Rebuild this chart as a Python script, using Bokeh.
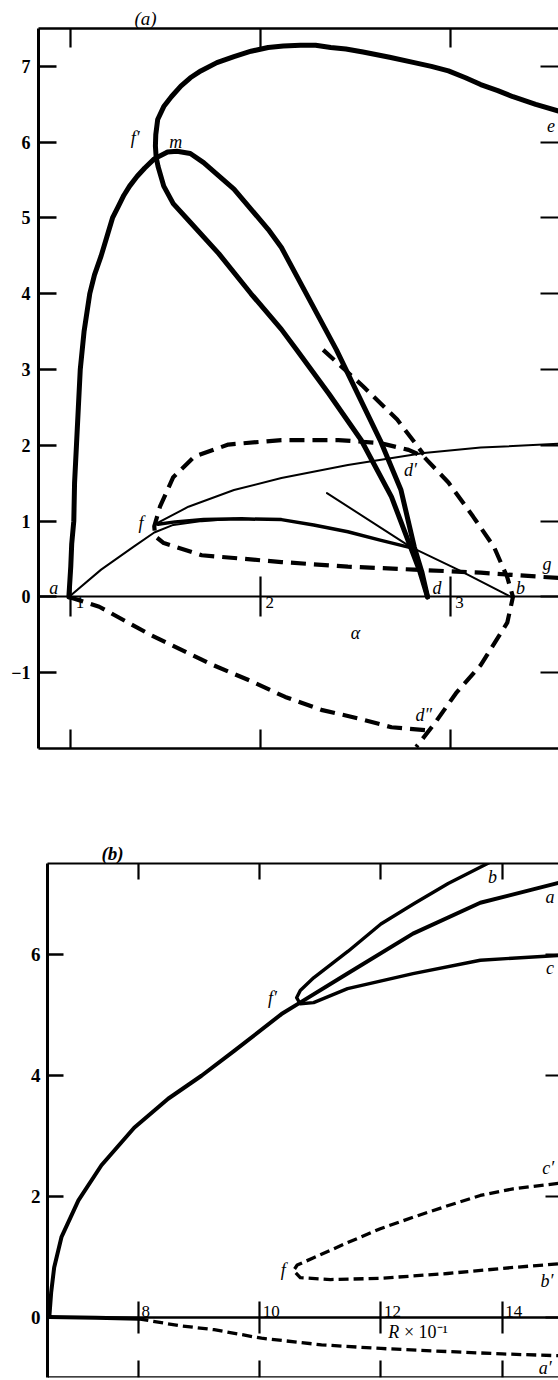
from bokeh.plotting import figure
from bokeh.models import LinearAxis, FixedTicker, Title
from bokeh.embed import file_html
from bokeh.resources import INLINE
from bokeh.core.properties import value

SERIF = "Liberation Serif"

# ---------------- panel (a): amplitude branches against alpha ----------------
alpha_ticks = [1, 2, 3]
amp_ticks_a = [-1, 0, 1, 2, 3, 4, 5, 6, 7]

# thick branch: a -> m -> d
k1_alpha = [0.99, 1.00, 1.005, 1.016, 1.02, 1.03, 1.04, 1.05, 1.07, 1.10, 1.125, 1.16, 1.19,
            1.22, 1.25, 1.28, 1.31, 1.35, 1.39, 1.44, 1.51, 1.56, 1.63, 1.70, 1.86, 2.04,
            2.11, 2.40, 2.63, 2.74, 2.81, 2.85, 2.88]
k1_amp = [0.0, 0.4, 0.7, 1.0, 1.5, 2.0, 2.5, 3.0, 3.5, 4.0, 4.25, 4.5, 4.75,
          5.0, 5.15, 5.3, 5.42, 5.55, 5.66, 5.78, 5.87, 5.88, 5.85, 5.73, 5.38, 4.85,
          4.61, 3.26, 2.07, 1.41, 0.66, 0.33, 0.0]

# thick branch: e -> f' (turning point) -> d
k2_alpha = [3.57, 3.45, 3.33, 3.25, 3.16, 3.08, 2.99, 2.90, 2.81, 2.68, 2.54, 2.45, 2.37,
            2.29, 2.21, 2.12, 2.04, 1.95, 1.86, 1.77, 1.685, 1.63, 1.58, 1.53, 1.49,
            1.458, 1.448, 1.446, 1.45, 1.46, 1.49, 1.54, 1.62, 1.78, 1.95, 2.11, 2.19,
            2.36, 2.53, 2.69, 2.79, 2.84, 2.88]
k2_amp = [6.41, 6.50, 6.60, 6.68, 6.76, 6.85, 6.94, 7.00, 7.05, 7.12, 7.19, 7.23, 7.25,
          7.28, 7.28, 7.27, 7.25, 7.20, 7.13, 7.05, 6.94, 6.85, 6.74, 6.60, 6.47,
          6.30, 6.10, 5.95, 5.80, 5.68, 5.42, 5.19, 4.97, 4.53, 4.00, 3.53, 3.26,
          2.68, 2.07, 1.32, 0.66, 0.33, 0.0]

# medium branch from f over the hump to the knot near d
h_alpha = [1.46, 1.55, 1.70, 1.90, 2.11, 2.28, 2.46, 2.63, 2.79]
h_amp = [0.96, 0.99, 1.02, 1.03, 1.02, 0.95, 0.86, 0.75, 0.65]

# thin branches
t1_alpha = [0.99, 1.16, 1.33, 1.44, 1.54, 1.69, 1.86]
t1_amp = [0.0, 0.36, 0.66, 0.85, 0.95, 1.0, 1.03]
t2_alpha = [1.46, 1.62, 1.86, 2.11, 2.46, 2.86, 3.16, 3.57]
t2_amp = [0.98, 1.19, 1.41, 1.57, 1.74, 1.90, 1.97, 2.02]
t3_alpha = [2.35, 2.79, 3.04, 3.32]
t3_amp = [1.37, 0.66, 0.36, 0.0]

# dashed branches
d1_alpha = [3.57, 3.33, 3.16, 2.81, 2.46, 2.11, 1.69, 1.49, 1.445, 1.44, 1.47, 1.54, 1.65,
            1.83, 2.11, 2.41, 2.63, 2.78, 2.86, 2.99, 3.12, 3.23, 3.30, 3.33, 3.30, 3.16,
            3.03, 2.92, 2.82]
d1_amp = [0.25, 0.29, 0.32, 0.36, 0.40, 0.46, 0.55, 0.71, 0.80, 0.93, 1.19, 1.58, 1.85,
          2.01, 2.07, 2.07, 2.03, 1.94, 1.85, 1.51, 1.06, 0.66, 0.26, 0.0, -0.34, -0.90,
          -1.27, -1.66, -1.98]
d2_alpha = [2.33, 2.54, 2.72, 2.86]
d2_amp = [3.26, 2.78, 2.34, 1.88]
d3_alpha = [0.99, 1.15, 1.42, 1.75, 1.94, 2.13, 2.32, 2.51, 2.69, 2.88]
d3_amp = [0.0, -0.13, -0.50, -0.90, -1.10, -1.32, -1.49, -1.60, -1.72, -1.76]

labels_a = ["f\u2032", "m", "e", "a", "f", "d\u2032", "d", "b", "g", "d\u2033"]
labels_a_alpha = [1.34, 1.553, 3.53, 0.91, 1.37, 2.79, 2.93, 3.37, 3.51, 2.86]
labels_a_amp = [6.06, 6.00, 6.22, 0.12, 0.97, 1.67, 0.12, 0.12, 0.44, -1.56]

# ---------------- panel (b): amplitude against R x 10^-1 ----------------
r_ticks = [8, 10, 12, 14]
amp_ticks_b = [0, 2, 4, 6]

main_r = [6.53, 6.56, 6.61, 6.73, 7.01, 7.39, 7.93, 8.49, 9.04, 9.58, 10.36, 10.70,
          11.45, 12.53, 13.64, 14.93]
main_amp = [0.0, 0.4, 0.82, 1.32, 1.93, 2.51, 3.13, 3.61, 3.99, 4.40, 5.01, 5.22,
            5.68, 6.34, 6.85, 7.18]

bc_r = [13.80, 13.11, 12.55, 12.0, 11.46, 10.89, 10.67, 10.61, 10.67, 10.89, 11.45,
        12.53, 13.64, 14.93]
bc_amp = [7.52, 7.17, 6.84, 6.50, 6.05, 5.61, 5.40, 5.28, 5.18, 5.20, 5.43,
          5.68, 5.90, 5.98]

cb_r = [14.93, 14.18, 13.64, 13.10, 12.53, 11.99, 11.45, 10.89, 10.62, 10.56, 10.67,
        11.17, 11.99, 13.10, 14.18, 14.93]
cb_amp = [2.21, 2.12, 2.01, 1.84, 1.65, 1.46, 1.23, 0.98, 0.86, 0.77, 0.65,
          0.62, 0.64, 0.72, 0.82, 0.88]

a0_r = [6.53, 7.3, 8.0]
a0_amp = [0.0, -0.01, -0.03]
a1_r = [8.0, 8.66, 9.25, 10.03, 11.02, 12.0, 13.08, 14.0, 14.93]
a1_amp = [-0.03, -0.14, -0.21, -0.35, -0.46, -0.52, -0.57, -0.61, -0.64]

labels_b = ["b", "a", "c", "f\u2032", "c\u2032", "f", "b\u2032", "a\u2032"]
labels_b_r = [13.84, 14.79, 14.79, 10.21, 14.76, 10.39, 14.74, 14.71]
labels_b_amp = [7.27, 6.94, 5.77, 5.28, 2.46, 0.77, 0.60, -0.85]


def tick_axis(ticks, tick_in, line_w, tick_out=0, fixed=None, show_line=True):
    """Frame edge carrying unlabelled inward ticks (drawn as minor ticks)."""
    ax = LinearAxis(ticker=FixedTicker(ticks=[], minor_ticks=ticks),
                    major_tick_line_color=None, minor_tick_in=tick_in,
                    minor_tick_out=tick_out, minor_tick_line_width=2.2,
                    minor_tick_line_color="black", axis_line_width=line_w,
                    axis_line_color="black" if show_line else None,
                    major_label_standoff=0)
    if fixed is not None:
        ax.fixed_location = fixed
    return ax


def value_axis(ticks, tick_in, font_size, standoff, overrides=None):
    """Left frame edge with bold numeric labels."""
    return LinearAxis(ticker=FixedTicker(ticks=ticks), major_tick_in=tick_in,
                      major_tick_out=0, minor_tick_line_color=None, axis_line_width=3,
                      major_tick_line_width=2.5, major_label_text_font=SERIF,
                      major_label_text_font_style="bold", major_label_text_color="black",
                      major_label_text_font_size=font_size, major_label_standoff=standoff,
                      major_label_overrides=overrides or {})


def make_fig(h, xr, yr, left, top, bottom):
    p = figure(width=558, height=h, x_range=xr, y_range=yr, output_backend="svg",
               toolbar_location=None, x_axis_location=None, y_axis_location=None,
               min_border_left=left, min_border_right=0, min_border_top=top,
               min_border_bottom=bottom, outline_line_color=None,
               background_fill_color="white", border_fill_color="white")
    p.grid.visible = False
    return p


def curve(p, xs, ys, w, dash="solid"):
    p.line(xs, ys, line_width=w, line_color="black", line_dash=dash,
           line_join="round", line_cap="butt" if dash != "solid" else "round")


# ---------- panel (a) ----------
pa = make_fig(800, (0.83, 3.57), (-2.0, 7.5), 38, 28, 52)

pa.add_layout(value_axis(amp_ticks_a, 18, "18px", 8, {-1: "\u22121"}), "left")
pa.add_layout(tick_axis(alpha_ticks, 19, 2.5), "above")
pa.add_layout(tick_axis(alpha_ticks, 19, 2.5), "below")
pa.add_layout(tick_axis(amp_ticks_a, 18, 2, fixed=3.57, show_line=False), "right")
pa.add_layout(tick_axis(alpha_ticks, 20, 2, tick_out=20, fixed=0), "below")
pa.add_layout(Title(text="(a)", align="left", offset=96, standoff=0, text_font=SERIF,
                    text_font_style="italic", text_font_size="19px",
                    text_color="black"), "above")

curve(pa, d1_alpha, d1_amp, 4.2, "15 8")
curve(pa, d2_alpha, d2_amp, 4.2, "15 8")
curve(pa, d3_alpha, d3_amp, 4.2, "15 8")
curve(pa, t1_alpha, t1_amp, 2)
curve(pa, t2_alpha, t2_amp, 2)
curve(pa, t3_alpha, t3_amp, 2)
curve(pa, h_alpha, h_amp, 3.5)
curve(pa, k1_alpha, k1_amp, 5)
curve(pa, k2_alpha, k2_amp, 5)

pa.text(x=labels_a_alpha, y=labels_a_amp, text=labels_a, text_font=value(SERIF),
        text_font_style="italic", text_font_size="18px", text_align="center",
        text_baseline="middle", text_color="black")
pa.text(x=alpha_ticks, y=[0] * len(alpha_ticks), text=[str(t) for t in alpha_ticks],
        x_offset=5, text_font=value(SERIF), text_font_size="17px",
        text_align="left", text_baseline="top", text_color="black")
pa.text(x=[2.50], y=[-0.48], text=["\u03b1"], text_font=value(SERIF),
        text_font_style="italic", text_font_size="18px", text_align="center",
        text_baseline="middle", text_color="black")

# ---------- panel (b) ----------
pb = make_fig(580, (6.5, 14.93), (-1.0, 7.5), 47, 63, 3)

pb.add_layout(value_axis(amp_ticks_b, 16, "19px", 7), "left")
pb.add_layout(tick_axis(r_ticks, 16, 2.2), "above")
pb.add_layout(tick_axis(r_ticks, 17, 2.5, fixed=-1.0), "below")
pb.add_layout(tick_axis(amp_ticks_b, 13, 2, fixed=14.93, show_line=False), "right")
pb.add_layout(tick_axis(r_ticks, 16, 2.5, tick_out=16, fixed=0), "above")
pb.add_layout(Title(text="(b)", align="left", offset=54, standoff=0, text_font=SERIF,
                    text_font_style="bold italic", text_font_size="19px",
                    text_color="black"), "above")

curve(pb, cb_r, cb_amp, 3.3, "10 5")
curve(pb, a1_r, a1_amp, 3.3, "10 5")
curve(pb, a0_r, a0_amp, 4)
curve(pb, main_r, main_amp, 4)
curve(pb, bc_r, bc_amp, 3.4)

pb.text(x=labels_b_r, y=labels_b_amp, text=labels_b, text_font=value(SERIF),
        text_font_style="italic", text_font_size="18px", text_align="center",
        text_baseline="middle", text_color="black")
pb.text(x=r_ticks, y=[0] * len(r_ticks), text=[str(t) for t in r_ticks],
        x_offset=3, text_font=value(SERIF), text_font_size="17px",
        text_align="left", text_baseline="bottom", text_color="black")
pb.text(x=[12.12], y=[-0.24], text=["R"], text_font=value(SERIF), text_font_style="italic",
        text_font_size="18px", text_align="left", text_baseline="middle", text_color="black")
pb.text(x=[12.38], y=[-0.24], text=["\u00d7 10\u207b\u00b9"], text_font=value(SERIF),
        text_font_size="18px", text_align="left", text_baseline="middle", text_color="black")

# two independent roots, stacked, so each panel keeps its own left border
open("out.html", "w").write(file_html([pa, pb], INLINE))
